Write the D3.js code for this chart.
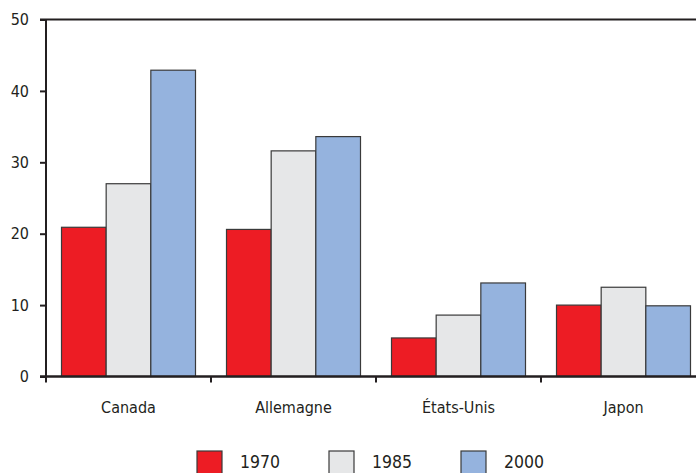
<!DOCTYPE html>
<html>
<head>
<meta charset="utf-8">
<script src="https://cdn.jsdelivr.net/npm/d3@7"></script>
<style>
  html, body { margin: 0; padding: 0; background: #fff; }
  svg { display: block; }
  text { font-family: "DejaVu Sans Condensed", "DejaVu Sans", sans-serif; fill: #231f20; }
</style>
</head>
<body>
<svg id="chart" width="696" height="473"></svg>
<script>
// Countries and the three survey years
const countries = ["Canada", "Allemagne", "États-Unis", "Japon"];
const years = ["1970", "1985", "2000"];

// One value per country, per year
const values1970 = [20.9, 20.6, 5.4, 10.0];
const values1985 = [27.0, 31.6, 8.6, 12.5];
const values2000 = [42.9, 33.6, 13.1, 9.9];

const yTicks = [0, 10, 20, 30, 40, 50];
const colors = ["#ed1c24", "#e6e7e8", "#95b3de"];

const seriesValues = [values1970, values1985, values2000];
const rows = countries.map((c, i) => ({
  country: c,
  bars: years.map((yr, j) => ({ year: yr, value: seriesValues[j][i], color: colors[j] }))
}));

const svg = d3.select("#chart");
const plotLeft = 46, plotRight = 706, plotTop = 19.5, plotBottom = 376.5;

const x0 = d3.scaleBand().domain(countries).range([plotLeft, plotRight]).padding(0);
const x1 = d3.scaleBand().domain(years).range([15.5, x0.bandwidth() - 15.5]).padding(0);
const y = d3.scaleLinear().domain([0, 50]).range([plotBottom, plotTop]);

// Top frame line
svg.append("line")
  .attr("x1", plotLeft - 6).attr("x2", 700)
  .attr("y1", y(50)).attr("y2", y(50))
  .attr("stroke", "#231f20").attr("stroke-width", 2);

// Bars
const groups = svg.append("g").selectAll("g").data(rows).join("g")
  .attr("transform", d => `translate(${x0(d.country)},0)`);
groups.selectAll("rect").data(d => d.bars).join("rect")
  .attr("x", d => x1(d.year))
  .attr("y", d => y(d.value))
  .attr("width", x1.bandwidth())
  .attr("height", d => y(0) - y(d.value))
  .attr("fill", d => d.color)
  .attr("stroke", "#3a3a3a")
  .attr("stroke-width", 1.2);

// Y axis
const yAxis = svg.append("g")
  .attr("transform", `translate(${plotLeft},0)`)
  .call(d3.axisLeft(y).tickValues(yTicks).tickSize(6).tickPadding(11));
yAxis.select(".domain").attr("stroke", "#231f20").attr("stroke-width", 2)
  .attr("d", `M0,${plotTop}V${plotBottom}`);
yAxis.selectAll(".tick line").attr("stroke", "#231f20").attr("stroke-width", 2);
yAxis.selectAll(".tick text").attr("font-size", 16).attr("fill", "#231f20")
  .attr("font-family", "DejaVu Sans Condensed, DejaVu Sans, sans-serif");

// X axis: ticks at the group boundaries, labels centred in each group
const xAxis = svg.append("g").attr("transform", `translate(0,${plotBottom})`);
xAxis.append("line")
  .attr("x1", plotLeft - 6).attr("x2", 700)
  .attr("stroke", "#231f20").attr("stroke-width", 2.4);
xAxis.selectAll("line.tk").data(countries).join("line")
  .attr("class", "tk")
  .attr("x1", d => x0(d)).attr("x2", d => x0(d))
  .attr("y1", 0).attr("y2", 6)
  .attr("stroke", "#231f20").attr("stroke-width", 2);
xAxis.selectAll("text").data(countries).join("text")
  .attr("x", d => x0(d) + x0.bandwidth() / 2)
  .attr("y", 36)
  .attr("text-anchor", "middle")
  .attr("font-size", 16)
  .text(d => d);

// Legend
const legendX = d3.scaleOrdinal().domain(years).range([197, 329, 461]);
const legend = svg.append("g").selectAll("g").data(years).join("g")
  .attr("transform", d => `translate(${legendX(d)},451)`);
legend.append("rect")
  .attr("width", 25).attr("height", 25)
  .attr("fill", (d, i) => colors[i])
  .attr("stroke", "#3a3a3a").attr("stroke-width", 1.2);
legend.append("text")
  .attr("x", 43).attr("y", 17)
  .attr("font-size", 17.5)
  .text(d => d);
</script>
</body>
</html>
